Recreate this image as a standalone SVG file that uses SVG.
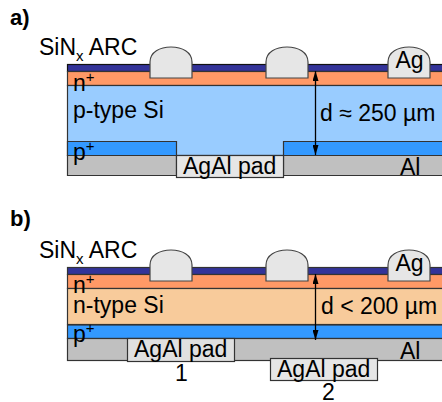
<svg xmlns="http://www.w3.org/2000/svg" width="442" height="402" viewBox="0 0 442 402">
<style>
.l{stroke:#333;stroke-width:1.2}
.t{font-family:"Liberation Sans",Arial,sans-serif;font-size:23px;fill:#000}
.h{font-family:"Liberation Sans",Arial,sans-serif;font-size:22px;font-weight:bold;fill:#000}
.s{font-size:15px}
.f{fill:#e6e6e6;stroke:#444;stroke-width:1.2}
.a{stroke:#000;stroke-width:1.3;fill:none;marker-start:url(#as);marker-end:url(#ae)}
</style>
<defs>
<marker id="ae" markerUnits="userSpaceOnUse" markerWidth="6" markerHeight="10" refX="3" refY="10" viewBox="0 0 6 10"><path d="M0 0L6 0L3 10Z" fill="#000"/></marker>
<marker id="as" markerUnits="userSpaceOnUse" markerWidth="6" markerHeight="10" refX="3" refY="0" viewBox="0 0 6 10"><path d="M3 0L6 10L0 10Z" fill="#000"/></marker>
<path id="fg" d="M0 31V15C0 5 10 0 21 0S42 5 42 15V31Z" class="f"/>
</defs>

<text id="label-a" class="h" x="10" y="24.500">a)</text>
<g id="cell-a">
<rect id="a-sin" x="67.500" y="64.500" width="380" height="7" fill="#333399" stroke="#111" stroke-width="1.200"/>
<rect id="a-nplus" x="67.500" y="71.500" width="380" height="14" fill="#ff9966" class="l"/>
<rect id="a-base" x="67.500" y="85.500" width="380" height="70" fill="#99ccff" class="l"/>
<path id="a-pplus" d="M67.500 141.500H176.500V155.500H67.500ZM283.500 155.500V141.500H447V155.500Z" fill="#3399ff" class="l"/>
<path id="a-al" d="M67.500 155.500H176.500V175.500H67.500ZM283.500 155.500H447V175.500H283.500Z" fill="#c0c0c0" class="l"/>
<rect id="a-pad" x="176.500" y="155.500" width="107" height="22" fill="#e6e6e6" stroke="#333" stroke-width="1.200"/>
<use id="a-f1" href="#fg" x="150" y="47"/>
<use id="a-f2" href="#fg" x="266" y="47"/>
<use id="a-f3" href="#fg" x="388" y="47"/>
</g>

<text id="label-b" class="h" x="10" y="226">b)</text>
<g id="cell-b">
<rect id="b-sin" x="67.500" y="267.500" width="380" height="7" fill="#333399" stroke="#333" stroke-width="1.200"/>
<rect id="b-nplus" x="67.500" y="274.500" width="380" height="14" fill="#ff9966" class="l"/>
<rect id="b-base" x="67.500" y="288.500" width="380" height="36" fill="#f8cb9b" class="l"/>
<rect id="b-pplus" x="67.500" y="325" width="380" height="13.500" fill="#3399ff" class="l"/>
<rect id="b-al" x="67.500" y="338.500" width="380" height="22" fill="#c0c0c0" class="l"/>
<rect id="b-pad1" x="127.500" y="338.500" width="107" height="23" fill="#e0e0e0" stroke="#333" stroke-width="1.200"/>
<rect id="b-pad2" x="270.500" y="358.500" width="107" height="22" fill="#e6e6e6" stroke="#333" stroke-width="1.200"/>
<use id="b-f1" href="#fg" x="150" y="250"/>
<use id="b-f2" href="#fg" x="266" y="250"/>
<use id="b-f3" href="#fg" x="388" y="250"/>
</g>

<g id="connectors">
<line class="a" x1="315.500" y1="71" x2="315.500" y2="155"/>
<line class="a" x1="315.500" y1="274" x2="315.500" y2="340"/>
</g>

<g id="labels-a">
<text class="t" x="39" y="55">SiN<tspan class="s" dy="6">x</tspan><tspan dy="-6"> ARC</tspan></text>
<text class="t" x="73" y="91">n<tspan class="s" dy="-9">+</tspan></text>
<text class="t" x="73" y="118">p-type Si</text>
<text class="t" x="73" y="160">p<tspan class="s" dy="-9">+</tspan></text>
<text class="t" x="183" y="174">AgAl pad</text>
<text class="t" x="400" y="175">Al</text>
<text class="t" x="395.500" y="68">Ag</text>
<text class="t" x="320" y="121">d ≈ 250 µm</text>
</g>
<g id="labels-b">
<text class="t" x="39" y="258">SiN<tspan class="s" dy="6">x</tspan><tspan dy="-6"> ARC</tspan></text>
<text class="t" x="73" y="293">n<tspan class="s" dy="-9">+</tspan></text>
<text class="t" x="73" y="312.500">n-type Si</text>
<text class="t" x="73" y="342">p<tspan class="s" dy="-9">+</tspan></text>
<text class="t" x="134" y="357">AgAl pad</text>
<text class="t" x="277" y="377">AgAl pad</text>
<text class="t" x="175" y="381">1</text>
<text class="t" x="322" y="400">2</text>
<text class="t" x="400" y="359">Al</text>
<text class="t" x="395.500" y="271">Ag</text>
<text class="t" x="321" y="314">d &lt; 200 µm</text>
</g>
</svg>
